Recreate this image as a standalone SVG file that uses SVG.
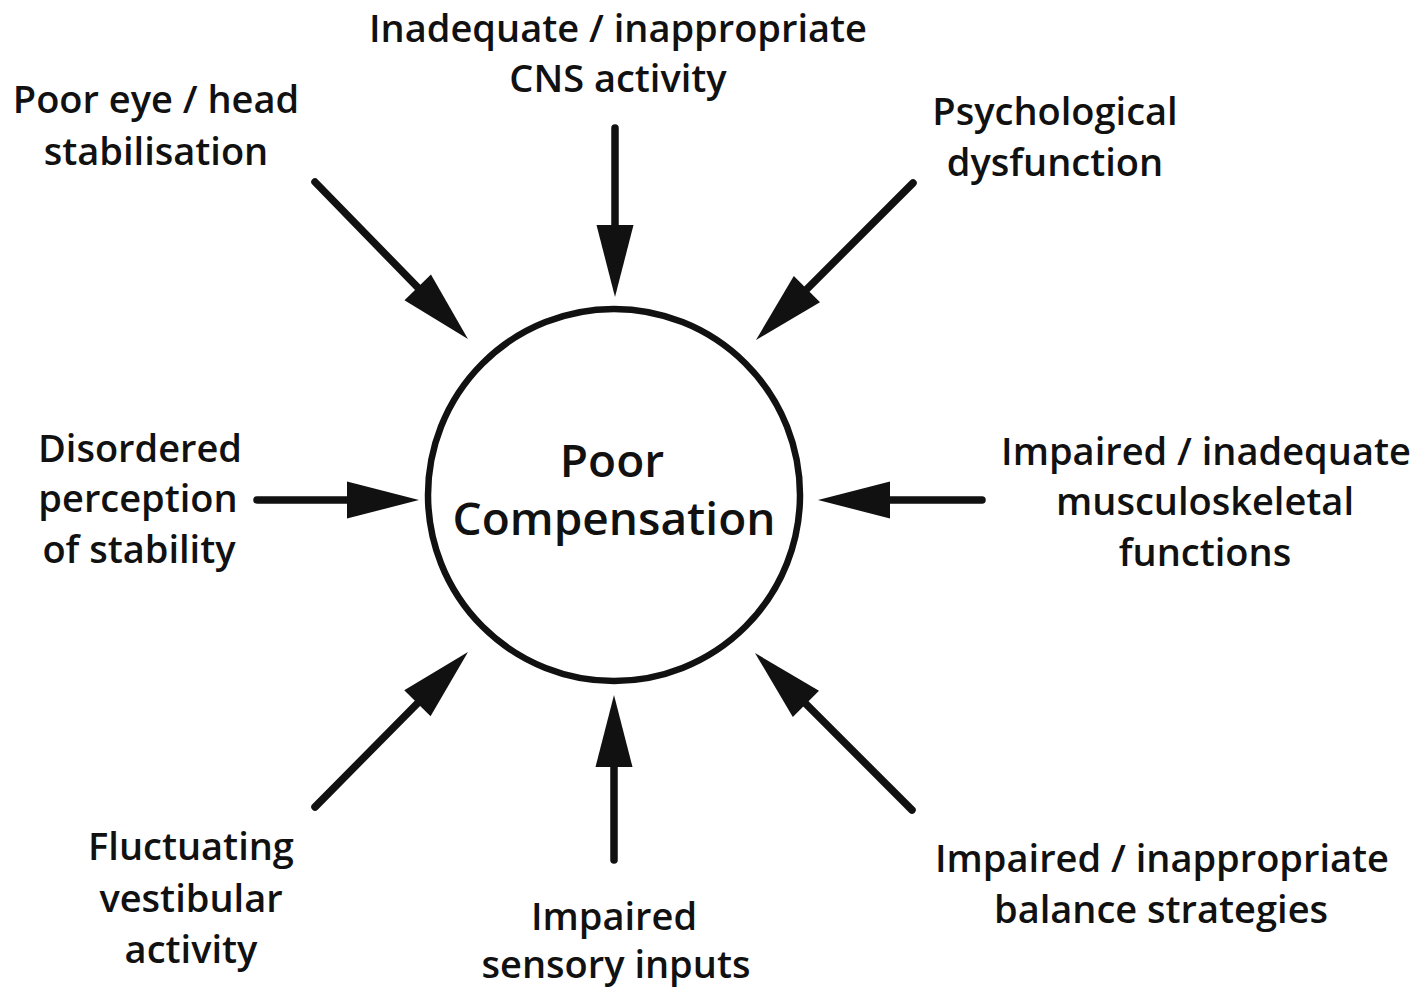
<svg xmlns="http://www.w3.org/2000/svg" width="1423" height="996" viewBox="0 0 1423 996">
<defs>
<style>
.t{font-family:"Open Sans","Noto Sans","DejaVu Sans",sans-serif;font-size:38px;font-weight:600;fill:#111;text-anchor:middle}
.c{font-family:"Open Sans","Noto Sans","DejaVu Sans",sans-serif;font-size:46px;font-weight:600;fill:#111;text-anchor:middle}
.a{stroke:#111;stroke-width:7.5;stroke-linecap:round;fill:none;marker-end:url(#ah)}
</style>
<marker id="ah" markerUnits="userSpaceOnUse" markerWidth="80" markerHeight="40" viewBox="0 -20 80 40" refX="0" refY="0" orient="auto" overflow="visible">
<path d="M0,-18.5 L72,0 L0,18.5 Z" fill="#111"/>
</marker>
</defs>
<rect width="1423" height="996" fill="#fff"/>
<g id="center">
<circle cx="614" cy="495" r="186" fill="none" stroke="#111" stroke-width="6.5"/>
<text class="c" x="612" y="477">Poor</text>
<text class="c" x="614" y="535">Compensation</text>
</g>
<g id="n-cns"><text class="t" x="618" y="42">Inadequate / inappropriate</text><text class="t" x="618" y="92">CNS activity</text></g>
<g id="n-eye"><text class="t" x="156" y="113">Poor eye / head</text><text class="t" x="156" y="165">stabilisation</text></g>
<g id="n-psych"><text class="t" x="1055" y="125">Psychological</text><text class="t" x="1055" y="176">dysfunction</text></g>
<g id="n-perc"><text class="t" x="140" y="462">Disordered</text><text class="t" x="138" y="512">perception</text><text class="t" x="139" y="563">of stability</text></g>
<g id="n-musc"><text class="t" x="1206" y="465">Impaired / inadequate</text><text class="t" x="1205" y="515">musculoskeletal</text><text class="t" x="1205" y="566">functions</text></g>
<g id="n-vest"><text class="t" x="191" y="860">Fluctuating</text><text class="t" x="191" y="912">vestibular</text><text class="t" x="191" y="963">activity</text></g>
<g id="n-sens"><text class="t" x="614" y="930">Impaired</text><text class="t" x="616" y="978">sensory inputs</text></g>
<g id="n-bal"><text class="t" x="1162" y="872">Impaired / inappropriate</text><text class="t" x="1161" y="923">balance strategies</text></g>
<g id="connectors">
<line class="a" x1="615" y1="128" x2="615" y2="225"/>
<line class="a" x1="315" y1="182" x2="417.7" y2="287.4"/>
<line class="a" x1="913" y1="183" x2="806.9" y2="289.1"/>
<line class="a" x1="257" y1="500" x2="347" y2="500"/>
<line class="a" x1="982" y1="500" x2="890" y2="500"/>
<line class="a" x1="315" y1="807" x2="417.4" y2="703.3"/>
<line class="a" x1="614" y1="860" x2="614" y2="767"/>
<line class="a" x1="912" y1="810" x2="805.9" y2="703.9"/>
</g>
</svg>
